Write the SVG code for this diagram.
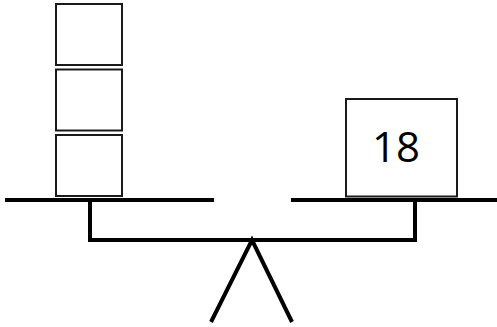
<svg xmlns="http://www.w3.org/2000/svg" width="497" height="327" viewBox="0 0 497 327">
<style>
.box{fill:#fff;stroke:#1a1a1a;stroke-width:2}
.bar{fill:none;stroke:#000;stroke-width:4;stroke-linecap:butt;stroke-linejoin:miter}
.lbl{font-family:"Open Sans","Noto Sans",sans-serif;font-size:42px;fill:#000}
</style>
<rect width="497" height="327" fill="#fff"/>
<g id="connectors">
<line class="bar" x1="5" y1="200" x2="214" y2="200"/>
<line class="bar" x1="291" y1="200" x2="497" y2="200"/>
<polyline class="bar" points="90,200 90,240 415,240 415,200"/>
<polyline class="bar" points="211,322 252,240 292,322"/>
</g>
<g id="box1"><rect class="box" x="56" y="4" width="66" height="61"/></g>
<g id="box2"><rect class="box" x="56" y="69.5" width="66" height="61"/></g>
<g id="box3"><rect class="box" x="56" y="135" width="66" height="61"/></g>
<g id="box18"><rect class="box" x="346" y="99" width="111" height="97.5"/><text class="lbl" x="396" y="162" text-anchor="middle">18</text></g>
</svg>
